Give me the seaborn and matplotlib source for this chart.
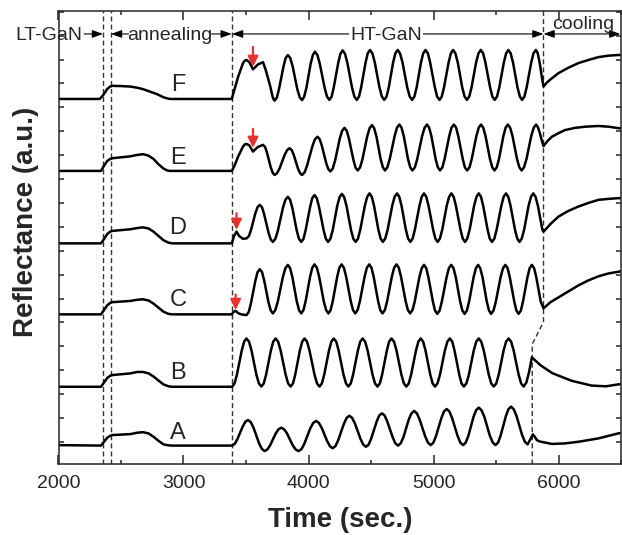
import matplotlib
matplotlib.use("Agg")
import matplotlib.pyplot as plt
import numpy as np
import pandas as pd
import seaborn as sns
from matplotlib.ticker import MultipleLocator

sns.set_style("ticks")
plt.rcParams["font.family"] = ["Liberation Sans", "DejaVu Sans"]

# ---------------- data (time in s, reflectance in a.u., offset stacked) ----
t_F = [2000, 2330, 2359, 2390, 2414, 2430, 2500, 2574, 2630, 2677, 2789, 2840, 2880, 2900, 3386,
       3437, 3476, 3490, 3504, 3526, 3556, 3594, 3636, 3658, 3693, 3713, 3721,
       3729, 3747, 3764, 3800, 3817,
       3835, 3854, 3873, 3910, 3929,
       3948, 3965, 3983, 4017, 4035,
       4052, 4071, 4090, 4129, 4148,
       4167, 4185, 4202, 4238, 4255,
       4273, 4292, 4311, 4348, 4367,
       4386, 4404, 4421, 4457, 4474,
       4492, 4511, 4530, 4568, 4587,
       4606, 4624, 4642, 4677, 4695,
       4713, 4732, 4752, 4790, 4810,
       4829, 4847, 4865, 4900, 4918,
       4936, 4955, 4973, 5011, 5029,
       5048, 5066, 5084, 5121, 5139,
       5157, 5175, 5194, 5230, 5249,
       5267, 5286, 5304, 5341, 5360,
       5378, 5397, 5415, 5453, 5471,
       5490, 5508, 5526, 5563, 5581,
       5599, 5617, 5636, 5672, 5691,
       5709, 5727, 5745, 5782, 5800,
       5818, 5833, 5850, 5866, 5880,
       5904, 5936, 6000, 6080, 6159, 6239, 6319, 6398, 6478, 6500]
r_F = [14.35, 14.35, 14.52, 14.77, 14.87, 14.90, 14.89, 14.87, 14.82, 14.76, 14.55, 14.42, 14.36, 14.35, 14.35,
       15.28, 15.85, 15.95, 15.98, 15.90, 15.59, 15.79, 15.89, 15.56, 14.90, 14.44, 14.33,
       14.28, 14.41, 14.76, 15.71, 16.06,
       16.19, 16.06, 15.72, 14.77, 14.43,
       14.30, 14.44, 14.81, 15.82, 16.19,
       16.33, 16.19, 15.83, 14.82, 14.45,
       14.31, 14.45, 14.83, 15.86, 16.24,
       16.38, 16.24, 15.86, 14.83, 14.45,
       14.31, 14.45, 14.83, 15.88, 16.26,
       16.40, 16.26, 15.88, 14.83, 14.45,
       14.31, 14.45, 14.83, 15.88, 16.26,
       16.40, 16.26, 15.88, 14.83, 14.45,
       14.31, 14.45, 14.83, 15.88, 16.26,
       16.40, 16.26, 15.88, 14.83, 14.45,
       14.31, 14.45, 14.83, 15.88, 16.26,
       16.40, 16.26, 15.88, 14.83, 14.45,
       14.31, 14.45, 14.83, 15.88, 16.26,
       16.40, 16.26, 15.88, 14.83, 14.45,
       14.31, 14.45, 14.83, 15.88, 16.26,
       16.40, 16.26, 15.88, 14.83, 14.45,
       14.31, 14.45, 14.83, 15.88, 16.26,
       16.40, 16.28, 15.85, 15.30, 14.87,
       15.02, 15.17, 15.43, 15.66, 15.85, 15.98, 16.10, 16.16, 16.19, 16.19]

t_E = [2000, 2340, 2359, 2390, 2414, 2430, 2574, 2630, 2677, 2720, 2760, 2800, 2840, 2870, 2890, 3386,
       3410, 3437, 3476, 3490, 3504, 3526, 3556, 3594, 3636, 3652, 3667, 3698, 3715,
       3729, 3749, 3769, 3809, 3829,
       3849, 3866, 3882, 3915, 3932,
       3948, 3969, 3989, 4031, 4051,
       4072, 4089, 4106, 4141, 4158,
       4175, 4194, 4213, 4250, 4269,
       4288, 4306, 4323, 4359, 4376,
       4394, 4413, 4432, 4470, 4489,
       4508, 4525, 4543, 4577, 4595,
       4612, 4631, 4650, 4689, 4708,
       4727, 4744, 4762, 4796, 4814,
       4831, 4851, 4870, 4909, 4929,
       4948, 4965, 4983, 5017, 5035,
       5052, 5071, 5089, 5126, 5144,
       5163, 5181, 5198, 5234, 5251,
       5269, 5288, 5306, 5343, 5362,
       5380, 5398, 5416, 5452, 5470,
       5488, 5506, 5524, 5559, 5577,
       5595, 5613, 5632, 5668, 5687,
       5705, 5724, 5744, 5782, 5802,
       5821, 5836, 5852, 5866, 5880,
       5910, 5947, 6000, 6053, 6130, 6213, 6319, 6400, 6478, 6500]
r_E = [11.34, 11.34, 11.51, 11.76, 11.84, 11.87, 11.95, 12.01, 12.04, 11.98, 11.84, 11.62, 11.44, 11.36, 11.34, 11.34,
       11.58, 11.94, 12.36, 12.45, 12.47, 12.41, 12.15, 12.34, 12.43, 12.35, 12.12, 11.49, 11.25,
       11.17, 11.25, 11.45, 12.01, 12.21,
       12.29, 12.21, 12.01, 11.45, 11.25,
       11.17, 11.28, 11.57, 12.37, 12.66,
       12.77, 12.67, 12.41, 11.68, 11.42,
       11.32, 11.44, 11.78, 12.69, 13.02,
       13.14, 13.02, 12.70, 11.81, 11.48,
       11.36, 11.49, 11.84, 12.79, 13.13,
       13.26, 13.13, 12.79, 11.84, 11.49,
       11.36, 11.49, 11.84, 12.80, 13.15,
       13.28, 13.15, 12.80, 11.84, 11.49,
       11.36, 11.49, 11.84, 12.80, 13.15,
       13.28, 13.15, 12.80, 11.84, 11.49,
       11.36, 11.49, 11.84, 12.80, 13.15,
       13.28, 13.15, 12.80, 11.84, 11.49,
       11.36, 11.49, 11.84, 12.80, 13.15,
       13.28, 13.15, 12.80, 11.84, 11.49,
       11.36, 11.49, 11.84, 12.80, 13.15,
       13.28, 13.15, 12.80, 11.84, 11.49,
       11.36, 11.49, 11.84, 12.80, 13.15,
       13.28, 13.16, 12.90, 12.62, 12.38,
       12.58, 12.77, 12.92, 13.05, 13.14, 13.19, 13.22, 13.19, 13.13, 13.12]

t_D = [2000, 2340, 2359, 2390, 2414, 2430, 2574, 2630, 2677, 2720, 2760, 2800, 2840, 2880, 2910, 3386,
       3405, 3424, 3445, 3475, 3505, 3523, 3540, 3575, 3593,
       3610, 3628, 3645, 3680, 3698,
       3715, 3735, 3755, 3795, 3815,
       3835, 3853, 3871, 3906, 3924,
       3942, 3960, 3977, 4013, 4030,
       4048, 4066, 4084, 4121, 4139,
       4157, 4175, 4194, 4230, 4249,
       4267, 4285, 4304, 4340, 4359,
       4377, 4396, 4414, 4451, 4470,
       4488, 4506, 4524, 4559, 4577,
       4595, 4614, 4633, 4670, 4689,
       4708, 4726, 4744, 4779, 4797,
       4815, 4833, 4851, 4888, 4906,
       4924, 4942, 4960, 4997, 5015,
       5033, 5051, 5070, 5106, 5125,
       5143, 5161, 5179, 5216, 5234,
       5252, 5270, 5289, 5325, 5344,
       5362, 5380, 5397, 5433, 5450,
       5468, 5487, 5505, 5543, 5561,
       5580, 5598, 5616, 5652, 5670,
       5688, 5706, 5725, 5761, 5780,
       5798, 5816, 5835, 5871, 5880,
       5910, 5936, 6000, 6080, 6159, 6239, 6319, 6398, 6478, 6500]
r_D = [8.31, 8.31, 8.45, 8.70, 8.80, 8.83, 8.90, 8.95, 8.98, 8.93, 8.80, 8.62, 8.44, 8.34, 8.31, 8.31,
       8.62, 8.80, 8.62, 8.50, 8.52, 8.61, 8.87, 9.57, 9.83,
       9.92, 9.82, 9.53, 8.76, 8.47,
       8.37, 8.50, 8.84, 9.79, 10.13,
       10.26, 10.13, 9.79, 8.84, 8.50,
       8.37, 8.50, 8.86, 9.84, 10.20,
       10.33, 10.20, 9.84, 8.86, 8.50,
       8.37, 8.50, 8.87, 9.88, 10.25,
       10.38, 10.25, 9.88, 8.87, 8.50,
       8.37, 8.51, 8.88, 9.89, 10.26,
       10.40, 10.26, 9.89, 8.88, 8.51,
       8.37, 8.51, 8.88, 9.89, 10.26,
       10.40, 10.26, 9.89, 8.88, 8.51,
       8.37, 8.51, 8.88, 9.89, 10.26,
       10.40, 10.26, 9.89, 8.88, 8.51,
       8.37, 8.51, 8.88, 9.89, 10.26,
       10.40, 10.26, 9.89, 8.88, 8.51,
       8.37, 8.51, 8.88, 9.89, 10.26,
       10.40, 10.26, 9.89, 8.88, 8.51,
       8.37, 8.51, 8.88, 9.89, 10.26,
       10.40, 10.26, 9.89, 8.88, 8.51,
       8.37, 8.51, 8.88, 9.89, 10.26,
       10.40, 10.26, 9.89, 8.88, 8.80,
       8.97, 9.12, 9.43, 9.67, 9.85, 10.00, 10.13, 10.17, 10.20, 10.20]

t_C = [2000, 2340, 2359, 2390, 2414, 2430, 2574, 2630, 2677, 2720, 2760, 2800, 2840, 2880, 2910, 3386,
       3400, 3416, 3435, 3460, 3504, 3522, 3539, 3575, 3592,
       3610, 3628, 3645, 3680, 3698,
       3715, 3735, 3755, 3795, 3815,
       3835, 3853, 3871, 3906, 3924,
       3942, 3960, 3977, 4013, 4030,
       4048, 4067, 4085, 4122, 4141,
       4159, 4177, 4194, 4230, 4247,
       4265, 4283, 4301, 4338, 4356,
       4374, 4393, 4411, 4449, 4467,
       4486, 4504, 4521, 4557, 4574,
       4592, 4611, 4629, 4667, 4685,
       4704, 4722, 4740, 4777, 4795,
       4813, 4832, 4850, 4887, 4906,
       4924, 4942, 4959, 4995, 5012,
       5030, 5049, 5067, 5105, 5123,
       5142, 5160, 5178, 5213, 5231,
       5249, 5267, 5285, 5321, 5339,
       5357, 5374, 5392, 5426, 5444,
       5461, 5480, 5499, 5537, 5556,
       5575, 5593, 5610, 5646, 5663,
       5681, 5699, 5716, 5752, 5769,
       5787, 5805, 5822, 5858, 5880,
       5936, 6000, 6080, 6159, 6239, 6319, 6398, 6478, 6500]
r_C = [5.34, 5.34, 5.48, 5.72, 5.82, 5.85, 5.90, 5.95, 5.97, 5.92, 5.79, 5.62, 5.45, 5.36, 5.34, 5.34,
       5.44, 5.49, 5.40, 5.34, 5.31, 5.44, 5.79, 6.75, 7.10,
       7.23, 7.11, 6.77, 5.84, 5.50,
       5.38, 5.52, 5.89, 6.90, 7.27,
       7.41, 7.27, 6.90, 5.89, 5.52,
       5.38, 5.52, 5.89, 6.92, 7.29,
       7.43, 7.29, 6.92, 5.89, 5.52,
       5.38, 5.52, 5.89, 6.92, 7.29,
       7.43, 7.29, 6.92, 5.89, 5.52,
       5.38, 5.52, 5.89, 6.92, 7.29,
       7.43, 7.29, 6.92, 5.89, 5.52,
       5.38, 5.52, 5.89, 6.92, 7.29,
       7.43, 7.29, 6.92, 5.89, 5.52,
       5.38, 5.52, 5.88, 6.90, 7.27,
       7.41, 7.27, 6.90, 5.88, 5.50,
       5.36, 5.50, 5.88, 6.90, 7.27,
       7.41, 7.27, 6.90, 5.88, 5.50,
       5.36, 5.50, 5.88, 6.90, 7.27,
       7.41, 7.27, 6.90, 5.88, 5.50,
       5.36, 5.50, 5.88, 6.90, 7.27,
       7.41, 7.27, 6.90, 5.88, 5.50,
       5.36, 5.50, 5.88, 6.90, 7.27,
       7.41, 7.27, 6.90, 5.87, 5.59,
       5.85, 6.05, 6.30, 6.55, 6.76, 6.93, 7.05, 7.12, 7.14]

t_B = [2000, 2340, 2359, 2390, 2414, 2430, 2574, 2630, 2677, 2720, 2760, 2800, 2840, 2880, 2910,
       3389, 3408, 3427, 3466, 3485,
       3504, 3524, 3544, 3583, 3603,
       3623, 3642, 3661, 3699, 3718,
       3737, 3757, 3777, 3817, 3837,
       3857, 3876, 3894, 3931, 3950,
       3968, 3988, 4008, 4048, 4068,
       4088, 4107, 4126, 4164, 4183,
       4202, 4222, 4241, 4280, 4300,
       4319, 4338, 4357, 4395, 4414,
       4433, 4453, 4473, 4512, 4532,
       4552, 4571, 4589, 4627, 4645,
       4664, 4684, 4704, 4743, 4763,
       4783, 4802, 4821, 4860, 4879,
       4898, 4917, 4936, 4974, 4993,
       5012, 5032, 5052, 5091, 5111,
       5131, 5150, 5168, 5206, 5224,
       5243, 5263, 5283, 5322, 5342,
       5362, 5382, 5402, 5442, 5462,
       5482, 5502, 5522, 5561, 5581,
       5601, 5621, 5641, 5681, 5701,
       5721, 5743, 5765, 5787,
       5854, 5950, 6106, 6265, 6380, 6478, 6500]
r_B = [2.31, 2.31, 2.45, 2.68, 2.77, 2.80, 2.87, 2.93, 2.93, 2.87, 2.74, 2.57, 2.41, 2.33, 2.31,
       2.31, 2.45, 2.81, 3.83, 4.20,
       4.33, 4.20, 3.83, 2.82, 2.45,
       2.32, 2.45, 2.82, 3.83, 4.20,
       4.33, 4.20, 3.83, 2.82, 2.45,
       2.32, 2.45, 2.82, 3.83, 4.20,
       4.33, 4.20, 3.83, 2.82, 2.45,
       2.32, 2.45, 2.82, 3.83, 4.20,
       4.33, 4.20, 3.83, 2.82, 2.45,
       2.32, 2.45, 2.82, 3.83, 4.20,
       4.33, 4.20, 3.83, 2.82, 2.45,
       2.32, 2.45, 2.82, 3.83, 4.20,
       4.33, 4.20, 3.83, 2.82, 2.45,
       2.32, 2.45, 2.82, 3.83, 4.20,
       4.33, 4.20, 3.83, 2.82, 2.45,
       2.32, 2.45, 2.82, 3.83, 4.20,
       4.33, 4.20, 3.83, 2.82, 2.45,
       2.32, 2.45, 2.82, 3.83, 4.20,
       4.33, 4.20, 3.83, 2.82, 2.45,
       2.32, 2.45, 2.82, 3.83, 4.20,
       4.33, 4.20, 3.83, 2.82, 2.45,
       2.32, 2.49, 2.94, 3.54,
       3.22, 2.88, 2.56, 2.36, 2.33, 2.41, 2.42]

t_A = [2000, 2340, 2359, 2390, 2414, 2430, 2574, 2630, 2677, 2720, 2760, 2800, 2840, 2880, 2910,
       3389, 3410, 3431, 3474, 3495,
       3516, 3538, 3560, 3605, 3627,
       3649, 3671, 3693, 3738, 3760,
       3782, 3805, 3828, 3874, 3897,
       3920, 3944, 3967, 4014, 4038,
       4061, 4083, 4105, 4150, 4172,
       4194, 4216, 4238, 4283, 4305,
       4327, 4349, 4371, 4416, 4438,
       4460, 4481, 4502, 4545, 4566,
       4587, 4609, 4630, 4674, 4695,
       4717, 4738, 4760, 4802, 4824,
       4845, 4867, 4889, 4934, 4956,
       4978, 4999, 5020, 5063, 5084,
       5105, 5127, 5149, 5193, 5215,
       5237, 5258, 5279, 5320, 5341,
       5362, 5384, 5407, 5451, 5474,
       5496, 5517, 5537, 5579, 5599,
       5620, 5642, 5664, 5709, 5731,
       5753, 5775, 5795, 5810, 5827, 5850, 5880,
       5947, 6050, 6159, 6319, 6478, 6500]
r_A = [-0.13, -0.15, -0.02, 0.18, 0.26, 0.29, 0.33, 0.39, 0.41, 0.36, 0.22, 0.05, -0.10, -0.14, -0.15,
       -0.15, -0.08, 0.12, 0.65, 0.85,
       0.92, 0.83, 0.60, -0.06, -0.29,
       -0.38, -0.31, -0.14, 0.36, 0.53,
       0.60, 0.53, 0.36, -0.14, -0.31,
       -0.38, -0.30, -0.07, 0.57, 0.80,
       0.88, 0.80, 0.60, 0.03, -0.18,
       -0.26, -0.17, 0.08, 0.76, 1.01,
       1.10, 1.01, 0.78, 0.13, -0.11,
       -0.20, -0.11, 0.15, 0.85, 1.11,
       1.20, 1.11, 0.86, 0.19, -0.06,
       -0.15, -0.05, 0.21, 0.94, 1.20,
       1.30, 1.20, 0.94, 0.23, -0.03,
       -0.13, -0.03, 0.25, 1.00, 1.28,
       1.38, 1.28, 1.00, 0.25, -0.03,
       -0.13, -0.02, 0.26, 1.05, 1.33,
       1.44, 1.33, 1.05, 0.26, -0.02,
       -0.13, -0.02, 0.27, 1.08, 1.37,
       1.48, 1.37, 1.09, 0.29, 0.01,
       -0.10, 0.12, 0.32, 0.22, 0.08, 0.02, -0.01,
       -0.08, -0.06, 0.01, 0.15, 0.36, 0.38]

sample_names = ["F", "E", "D", "C", "B", "A"]
label_time = 2956
label_level = [14.94, 11.88, 8.95, 5.94, 2.89, 0.38]

# red markers (time, tail level, tip level) for samples F, E, D, C
marker_samples = ["F", "E", "D", "C"]
marker_time = [3556, 3556, 3424, 3417]
marker_tail = [16.53, 13.10, 9.57, 6.17]
marker_tip = [15.69, 12.30, 8.87, 5.52]

# stage boundaries
stage_bounds = [2356, 2420, 3388]
cool_bound_t = [5880, 5880, 5790, 5790]
cool_bound_r = [18.03, 5.02, 4.10, -0.92]
stage_names = ["LT-GaN", "annealing", "HT-GaN", "cooling"]

x_ticks = [2000, 3000, 4000, 5000, 6000]
x_tick_labels = ["2000", "3000", "4000", "5000", "6000"]

curves = {"F": (t_F, r_F), "E": (t_E, r_E), "D": (t_D, r_D),
          "C": (t_C, r_C), "B": (t_B, r_B), "A": (t_A, r_A)}
for k, (t, r) in curves.items():
    assert len(t) == len(r), (k, len(t), len(r))

# ---------------- figure ----------------
fig = plt.figure(figsize=(6.22, 5.35), dpi=100)
ax = fig.add_axes([58.5 / 622, 71 / 535, (621 - 58.5) / 622, 453 / 535])

for name in sample_names:
    t, r = curves[name]
    df = pd.DataFrame({"time": t, "refl": r})
    sns.lineplot(data=df, x="time", y="refl", ax=ax, color="black", lw=1.8,
                 sort=False, estimator=None, solid_joinstyle="round")

dash = (0, (3.6, 2.2))
for xb in stage_bounds:
    ax.axvline(xb, color="#333333", lw=1.0, ls=dash, zorder=1)
ax.plot(cool_bound_t, cool_bound_r, color="#333333", lw=1.0, ls=dash, zorder=1)

for name, lvl in zip(sample_names, label_level):
    ax.text(label_time, lvl, name, fontsize=17, ha="center", va="center")

for tt, tail, tip in zip(marker_time, marker_tail, marker_tip):
    ax.annotate("", xy=(tt, tip), xytext=(tt, tail),
                arrowprops=dict(arrowstyle="-|>,head_length=0.45,head_width=0.22",
                                color="#e8312f", lw=1.6, mutation_scale=14,
                                shrinkA=0, shrinkB=0))

# stage annotations
ya = 17.07
aprops = dict(arrowstyle="-|>,head_length=0.5,head_width=0.18", color="black",
              lw=0.8, mutation_scale=13, shrinkA=0, shrinkB=0)
dprops = dict(arrowstyle="<|-|>,head_length=0.5,head_width=0.18", color="black",
              lw=0.8, mutation_scale=13, shrinkA=0, shrinkB=0)
ax.text(1924, ya, stage_names[0], fontsize=14, ha="center", va="center_baseline", clip_on=False)
ax.annotate("", xy=(2356, ya), xytext=(2205, ya), arrowprops=aprops)
ax.annotate("", xy=(2420, ya), xytext=(2560, ya), arrowprops=aprops)
ax.text(2892, ya, stage_names[1], fontsize=14, ha="center", va="center_baseline")
ax.annotate("", xy=(3386, ya), xytext=(3224, ya), arrowprops=aprops)
ax.annotate("", xy=(5880, ya), xytext=(3388, ya), arrowprops=dprops)
ax.text(4619, ya, stage_names[2], fontsize=14, ha="center", va="center_baseline",
        bbox=dict(fc="white", ec="none", pad=0.5))
ax.annotate("", xy=(6495, ya), xytext=(5880, ya), arrowprops=dprops)
ax.text(6199, 17.54, stage_names[3], fontsize=14, ha="center", va="center_baseline")

ax.set_xlim(2000, 6500)
ax.set_ylim(-0.92, 18.03)
ax.set_xticks(x_ticks)
ax.set_xticklabels(x_tick_labels)
ax.xaxis.set_minor_locator(MultipleLocator(500))
ax.set_yticks(range(0, 19))
ax.set_yticklabels([])
ax.tick_params(which="both", direction="in", top=True, right=True, width=1.1)
ax.tick_params(axis="x", which="major", length=6.5, labelsize=14, pad=8)
ax.tick_params(axis="x", which="minor", length=3.2)
ax.tick_params(axis="y", which="major", length=3.5)
for sp in ax.spines.values():
    sp.set_linewidth(1.1)

ax.set_xlabel("Time (sec.)", fontsize=20, fontweight="bold")
ax.xaxis.set_label_coords(0.5, -0.095)
ax.set_ylabel("Reflectance (a.u.)", fontsize=20, fontweight="bold")
ax.yaxis.set_label_coords(-0.034, 0.534)

fig.savefig("out.png", dpi=100)
